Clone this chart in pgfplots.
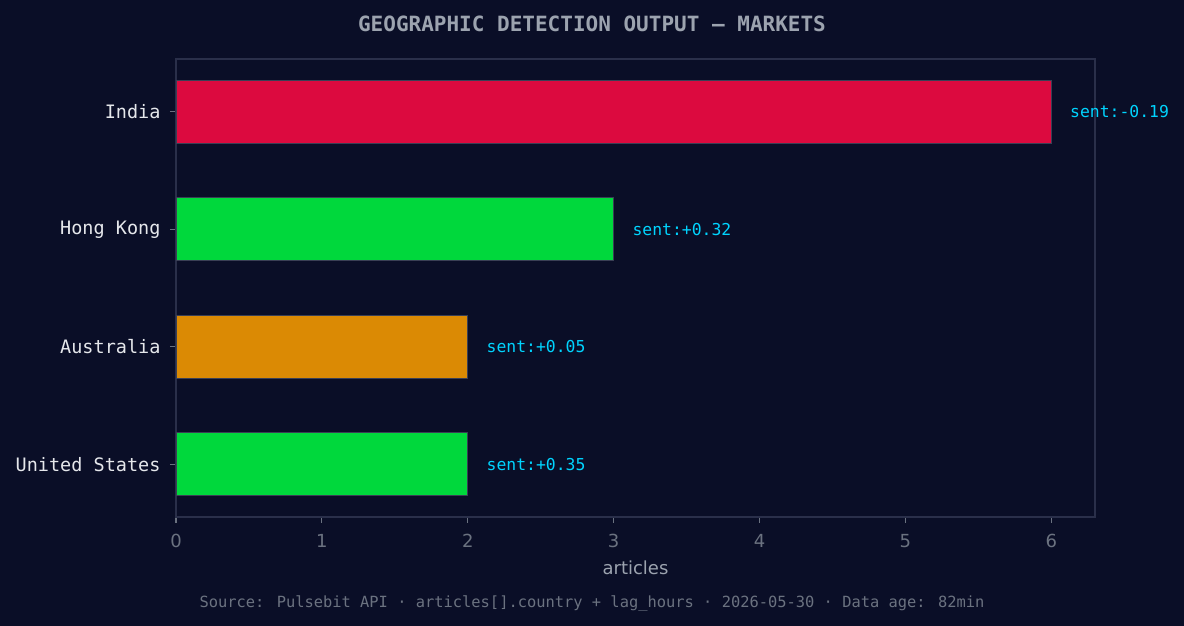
\documentclass[border=0pt]{standalone}
\usepackage{pgfplots}
\pgfplotsset{compat=1.18}
\usepackage{fontspec}
\setmainfont{DejaVu Sans}
\newfontfamily\monofont{DejaVu Sans Mono}
\definecolor{bg}{HTML}{0A0E27}
\definecolor{framec}{HTML}{2A2F4A}
\definecolor{tickc}{HTML}{6B7280}
\definecolor{titlec}{HTML}{9CA3AF}
\definecolor{ylabc}{HTML}{E5E7EB}
\definecolor{barred}{HTML}{DC0A3F}
\definecolor{bargreen}{HTML}{00D83C}
\definecolor{barorange}{HTML}{DB8A04}
\definecolor{sentc}{HTML}{00D4FF}
\definecolor{edgec}{HTML}{3A3F55}
\begin{document}
\begin{tikzpicture}[x=1pt,y=1pt]
\fill[bg] (0,0) rectangle (1184,626);
\node[font=\monofont\bfseries\fontsize{21}{25}\selectfont, text=titlec] at (592,602) {GEOGRAPHIC DETECTION OUTPUT — MARKETS};
\node[font=\monofont\fontsize{15.4}{19}\selectfont, text=tickc] at (592,23) {Source: Pulsebit API · articles[].country + lag\_hours · 2026-05-30 · Data age: 82min};
\begin{axis}[
  at={(176pt,109pt)}, anchor=south west,
  width=919pt, height=458pt, scale only axis,
  xmin=0, xmax=6.3, ymin=-0.45, ymax=3.45,
  xbar, bar width=63pt, bar shift=0pt,
  axis line style={color=framec, line width=1.2pt},
  xtick={0,1,2,3,4,5,6}, ytick={0,1,2,3},
  yticklabels={United States, Australia, Hong Kong, India},
  tick align=outside, major tick length=6pt,
  xtick pos=bottom, ytick pos=left,
  tick style={color=tickc, line width=1.2pt},
  /pgf/number format/assume math mode=true,
  xticklabel style={font=\fontsize{18}{21}\selectfont, text=tickc, yshift=-8pt},
  yticklabel style={font=\monofont\fontsize{18.5}{22}\selectfont, text=ylabc, xshift=-6pt},
  xlabel={articles},
  xlabel style={font=\fontsize{18}{21}\selectfont, text=titlec, at={(axis description cs:0.5,0)}, anchor=center, yshift=-51pt},
  nodes near coords style={font=\monofont\fontsize{16.4}{20}\selectfont, text=sentc, anchor=west, inner sep=0pt, xshift=18.5pt},
]
\addplot[fill=barred, draw=edgec, line width=1pt, nodes near coords={sent:-0.19}] coordinates {(6,3)};
\addplot[fill=bargreen, draw=edgec, line width=1pt, nodes near coords={sent:+0.32}] coordinates {(3,2)};
\addplot[fill=barorange, draw=edgec, line width=1pt, nodes near coords={sent:+0.05}] coordinates {(2,1)};
\addplot[fill=bargreen, draw=edgec, line width=1pt, nodes near coords={sent:+0.35}] coordinates {(2,0)};
\end{axis}
\end{tikzpicture}
\end{document}
